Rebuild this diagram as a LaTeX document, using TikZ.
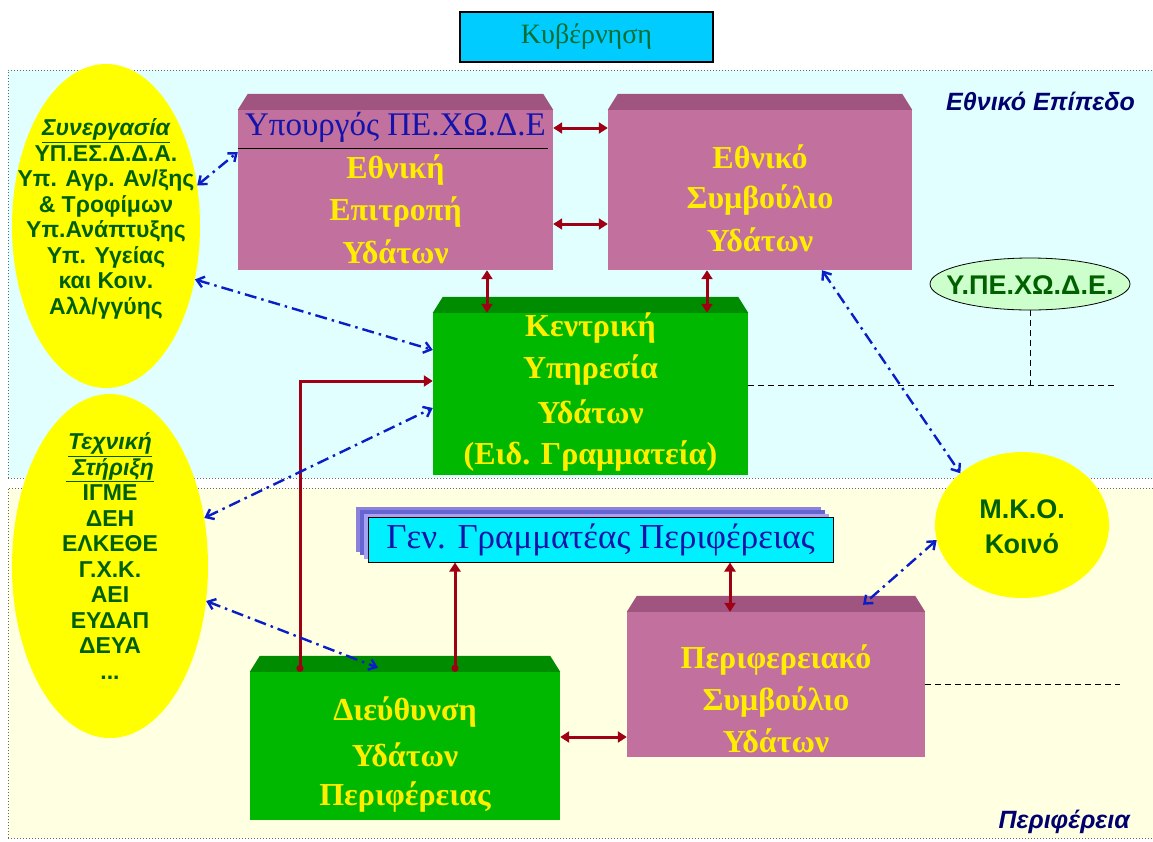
\documentclass[tikz,border=0pt]{standalone}
\usepackage{fontspec}
\setmainfont{Liberation Serif}
\newfontfamily\grsans{Liberation Sans}
\usetikzlibrary{arrows.meta,shapes.geometric}
\definecolor{topbg}{RGB}{226,255,255}
\definecolor{botbg}{RGB}{255,255,226}
\definecolor{pinkf}{RGB}{194,112,158}
\definecolor{pinkt}{RGB}{160,84,128}
\definecolor{greenf}{RGB}{0,184,0}
\definecolor{greent}{RGB}{0,140,0}
\definecolor{ytext}{RGB}{255,238,0}
\definecolor{dgreen}{RGB}{0,96,0}
\definecolor{navy}{RGB}{0,0,110}
\definecolor{hblue}{RGB}{20,20,170}
\definecolor{cyanbox}{RGB}{0,204,255}
\definecolor{cyangb}{RGB}{0,240,255}
\definecolor{kygreen}{RGB}{0,110,50}
\definecolor{redarr}{RGB}{160,0,20}
\definecolor{bluearr}{RGB}{10,30,200}
\definecolor{ellyel}{RGB}{255,255,0}
\definecolor{lgreen}{RGB}{204,255,204}
\definecolor{shadowa}{RGB}{140,130,220}
\definecolor{shadowb}{RGB}{100,100,210}
\definecolor{shadowc}{RGB}{170,160,240}
\newcommand\mkbevel[2]{\fill[#2] (#1.north west) -- ([shift={(10pt,16pt)}]#1.north west) -- ([shift={(-10pt,16pt)}]#1.north east) -- (#1.north east) -- cycle;}
\begin{document}
\begin{tikzpicture}[x=1pt,y=-1pt,
  pinkbox/.style={fill=pinkf,draw=none,inner sep=0pt,rectangle},
  greenbox/.style={fill=greenf,draw=none,inner sep=0pt,rectangle},
  boxtext/.style={text=ytext,font=\bfseries\fontsize{32}{36}\selectfont,inner sep=0pt},
  elltext/.style={text=dgreen,align=center,font=\grsans\bfseries\fontsize{23}{25.5}\selectfont,inner sep=0pt},
  yellell/.style={ellipse,fill=ellyel,draw=none,inner sep=0pt},
  rdarrow/.style={draw=redarr,line width=3pt,{Triangle[length=9pt,width=11pt]}-{Triangle[length=9pt,width=11pt]}},
  rsarrow/.style={draw=redarr,line width=3pt,{Circle[length=7pt]}-{Triangle[length=9pt,width=11pt]}},
  blarrow/.style={draw=bluearr,line width=2.4pt,dash pattern=on 12pt off 5pt on 2.5pt off 5pt,{Straight Barb[length=7pt,width=11pt]}-{Straight Barb[length=7pt,width=11pt]}},
  thindash/.style={draw=black,line width=0.9pt,dash pattern=on 6pt off 4pt},
  reglabel/.style={text=navy,font=\grsans\bfseries\itshape\fontsize{25}{28}\selectfont,inner sep=0pt}
]
\useasboundingbox (0,0) rectangle (1153,841);
\fill[white] (0,0) rectangle (1153,841);
% regions
\fill[topbg] (8,70) rectangle (1160,478);
\draw[gray!80!black,line width=1pt,dotted] (8,478) -- (8,70) -- (1160,70);
\draw[gray!80!black,line width=1pt,dotted] (8,478) -- (1160,478);
\fill[botbg] (8,488) rectangle (1160,838);
\draw[gray!80!black,line width=1pt,dotted] (8,838) -- (8,488) -- (1160,488);
\draw[gray!80!black,line width=1pt,dotted] (8,838) -- (1160,838);
\node[reglabel,anchor=east] (lab1) at (1135,101) {Εθνικό Επίπεδο};
\node[reglabel,anchor=east] (lab2) at (1130,822) {Περιφέρεια};
% government
\node[fill=cyanbox,draw=black,line width=1.5pt,minimum width=253pt,minimum height=50pt,inner sep=0pt,text=kygreen,font=\fontsize{28}{30}\selectfont] (kyv) at (586.5,37) {Κυβέρνηση};
% ellipses
\node[yellell,minimum width=188pt,minimum height=324pt] (syn) at (106,226) {};
\node[elltext] (syntext) at (106,219) {\textit{\underline{Συνεργασία}}\\ΥΠ.ΕΣ.Δ.Δ.Α.\\Υπ. Αγρ. Αν/ξης\\\& Τροφίμων\\Υπ.Ανάπτυξης\\Υπ. Υγείας\\και Κοιν.\\Αλλ/γγύης};
\node[yellell,minimum width=196pt,minimum height=344pt] (tex) at (110,566) {};
\node[elltext] (textext) at (110,556) {\textit{\underline{Τεχνική}}\\\textit{\underline{\ Στήριξη}}\\ΙΓΜΕ\\ΔΕΗ\\ΕΛΚΕΘΕ\\Γ.Χ.Κ.\\ΑΕΙ\\ΕΥΔΑΠ\\ΔΕΥΑ\\...};
\node[yellell,minimum width=174pt,minimum height=146pt] (mko) at (1022,525) {};
\node[elltext,font=\grsans\bfseries\fontsize{27}{35}\selectfont] (mkotext) at (1022,527) {Μ.Κ.Ο.\\Κοινό};
\node[ellipse,fill=lgreen,draw=black,line width=0.8pt,minimum width=200pt,minimum height=52pt,inner sep=0pt] (ype) at (1030,284) {};
\node[inner sep=0pt,text=dgreen,font=\grsans\bfseries\fontsize{27}{30}\selectfont] (ypetext) at (1030,285) {Υ.ΠΕ.ΧΩ.Δ.Ε.};
% boxes
\node[pinkbox,minimum width=315pt,minimum height=160pt] (ep) at (395.5,190) {};
\mkbevel{ep}{pinkt}
\draw[black,line width=1pt] (ep.west|-0,148) -- (548,148);
\node[text=hblue,inner sep=0pt,font=\fontsize{33}{36}\selectfont] (eph) at (395.5,127) {Υπουργός ΠΕ.ΧΩ.Δ.Ε};
\node[boxtext] (ep1) at (395.5,170) {Εθνική};
\node[boxtext] (ep2) at (395.5,212) {Επιτροπή};
\node[boxtext] (ep3) at (395.5,252) {Υδάτων};
\node[pinkbox,minimum width=304pt,minimum height=160pt] (es) at (760,190) {};
\mkbevel{es}{pinkt}
\node[boxtext] (es1) at (760,157) {Εθνικό};
\node[boxtext] (es2) at (760,200) {Συμβούλιο};
\node[boxtext] (es3) at (760,240) {Υδάτων};
\node[greenbox,minimum width=315pt,minimum height=162pt] (kc) at (590.5,394) {};
\mkbevel{kc}{greent}
\node[boxtext] (kc1) at (590.5,328) {Κεντρική};
\node[boxtext] (kc2) at (590.5,370) {Υπηρεσία};
\node[boxtext] (kc3) at (590.5,412) {Υδάτων};
\node[boxtext] (kc4) at (590.5,456) {(Ειδ. Γραμματεία)};
\node[greenbox,minimum width=310pt,minimum height=148pt] (di) at (405,746) {};
\mkbevel{di}{greent}
\node[boxtext] (di1) at (405,712) {Διεύθυνση};
\node[boxtext] (di2) at (405,755) {Υδάτων};
\node[boxtext] (di3) at (405,797) {Περιφέρειας};
\node[pinkbox,minimum width=298pt,minimum height=145pt] (pe) at (776,684.5) {};
\mkbevel{pe}{pinkt}
\node[boxtext] (pe1) at (776,660) {Περιφερειακό};
\node[boxtext] (pe2) at (776,702) {Συμβούλιο};
\node[boxtext] (pe3) at (776,741) {Υδάτων};
% general secretary box with stacked shadow
\fill[shadowa] (356,507) rectangle (821,552);
\fill[shadowb] (360,510) rectangle (825,555);
\fill[shadowc] (364,514) rectangle (829,559);
\node[fill=cyangb,draw=black,line width=1pt,minimum width=465pt,minimum height=45pt,inner sep=0pt,text=hblue,font=\fontsize{35}{38}\selectfont] (gb) at (600.5,539.5) {Γεν. Γραμματέας Περιφέρειας};
% red connectors
\draw[rdarrow] ([yshift=62pt]ep.east) -- ([yshift=62pt]ep.east -| es.west);
\draw[rdarrow] ([yshift=-34pt]ep.east) -- ([yshift=-34pt]ep.east -| es.west);
\draw[rdarrow] ([xshift=91.5pt]ep.south) -- ([xshift=91.5pt]ep.south |- kc.north);
\draw[rdarrow] ([xshift=-53pt]es.south) -- ([xshift=-53pt]es.south |- kc.north);
\draw[rsarrow] ([xshift=-105pt]di.north) |- ([yshift=13pt]kc.west);
\draw[rsarrow] ([xshift=50pt]di.north) -- ([xshift=50pt]di.north |- gb.south);
\draw[rdarrow] ([xshift=129.5pt]gb.south) -- ([xshift=129.5pt]gb.south |- pe.north);
\draw[rdarrow] ([yshift=9pt]di.east) -- ([yshift=9pt]di.east -| pe.west);
% dashed connectors
\coordinate (dend1) at (1115,385);
\coordinate (dend2) at (1120,684.5);
\draw[thindash] ([yshift=9pt]kc.east) -- ([yshift=9pt]kc.east -| dend1);
\draw[thindash] (ype.south) -- (ype.south |- dend1);
\draw[thindash] (pe.east) -- (pe.east -| dend2);
% blue dash-dot connectors
\draw[blarrow] (syn.24) -- ([yshift=38pt]ep.west);
\draw[blarrow] (syn.-31) -- ([yshift=44pt]kc.west);
\draw[blarrow] (tex.27) -- ([yshift=-14pt]kc.west);
\draw[blarrow] (tex.-20) -- ([xshift=-27pt,yshift=4pt]di.north);
\draw[blarrow] ([xshift=62pt]es.south) -- (mko.140);
\draw[blarrow] (mko.190) -- ([shift={(87pt,7pt)}]pe.north);
\end{tikzpicture}
\end{document}
